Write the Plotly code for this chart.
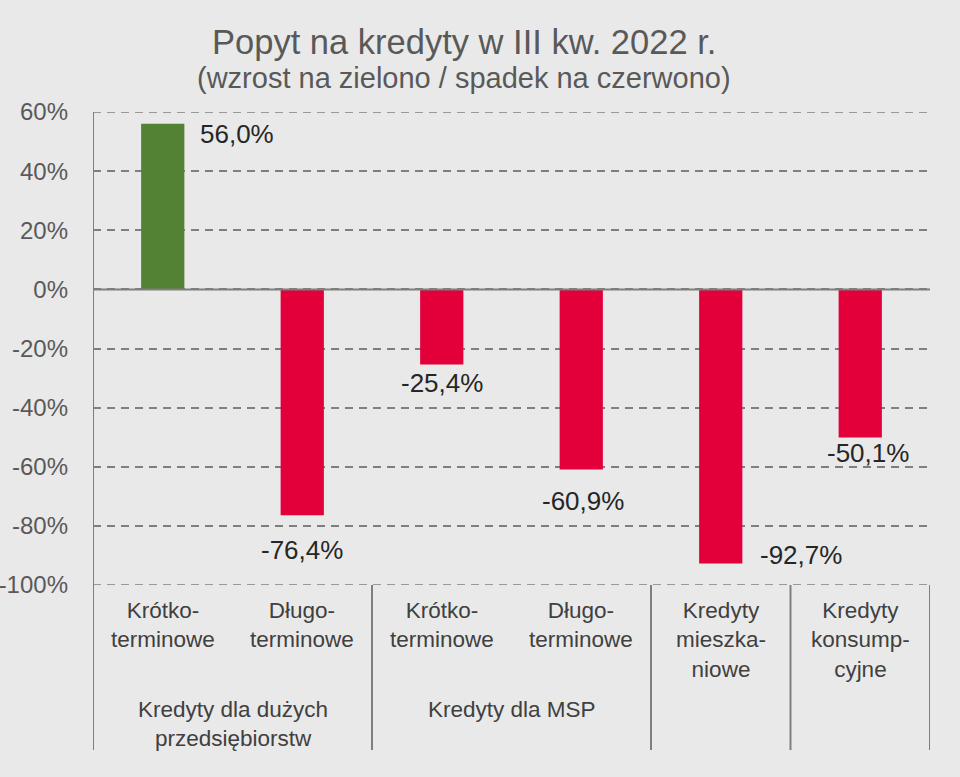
import plotly.graph_objects as go

# ---- data ----
categories = ["Krótko-<br>terminowe", "Długo-<br>terminowe", "Krótko-<br>terminowe",
              "Długo-<br>terminowe", "Kredyty<br>mieszka-<br>niowe", "Kredyty<br>konsump-<br>cyjne"]
values = [56.0, -76.4, -25.4, -60.9, -92.7, -50.1]
value_labels = ["56,0%", "-76,4%", "-25,4%", "-60,9%", "-92,7%", "-50,1%"]
groups = ["Kredyty dla dużych<br>przedsiębiorstw", "Kredyty dla MSP"]
group_members = [[0, 1], [2, 3]]
tick_vals = [60, 40, 20, 0, -20, -40, -60, -80, -100]
tick_text = ["60%", "40%", "20%", "0%", "-20%", "-40%", "-60%", "-80%", "-100%"]
group_bounds = [-0.5, 1.5, 3.5, 4.5, 5.5]

# ---- style ----
GREEN = "#548235"
RED = "#e3003a"
BG = "#e9e9e9"
GRID = "#7f7f7f"
TXT = "#404040"
FONT = "Liberation Sans, Arial, sans-serif"
label_shift = [(74, -10), (0, -35), (0, -19), (2, -32), (80, 8), (8, -16)]

x = list(range(len(values)))
colors = [GREEN if v >= 0 else RED for v in values]

fig = go.Figure()
fig.add_trace(go.Bar(x=x, y=values, marker=dict(color=colors, line=dict(width=0)),
                     width=0.31, hoverinfo="skip"))

annotations = []
for i, (v, t) in enumerate(zip(values, value_labels)):
    dx, dy = label_shift[i]
    annotations.append(dict(x=i, y=v, xref="x", yref="y", text=t, showarrow=False,
                            xanchor="center", yanchor="middle", xshift=dx, yshift=dy,
                            font=dict(size=26, color="#262626", family=FONT)))

# category labels
for i, c in enumerate(categories):
    annotations.append(dict(x=i, y=-0.024, xref="x", yref="paper", text=c, showarrow=False,
                            xanchor="center", yanchor="top",
                            font=dict(size=22.5, color=TXT, family=FONT)))
# group labels
for g, members in zip(groups, group_members):
    annotations.append(dict(x=sum(members) / len(members), y=-0.232, xref="x", yref="paper",
                            text=g, showarrow=False, xanchor="center", yanchor="top",
                            font=dict(size=22.5, color=TXT, family=FONT)))

# title
title_x = (464 - 93) / 837
annotations.append(dict(x=title_x, y=1 + (112 - 42) / 473, xref="paper", yref="paper",
                        text="Popyt na kredyty w III kw. 2022 r.", showarrow=False,
                        xanchor="center", yanchor="middle",
                        font=dict(size=34.5, color="#595959", family=FONT)))
annotations.append(dict(x=title_x, y=1 + (112 - 78) / 473, xref="paper", yref="paper",
                        text="(wzrost na zielono / spadek na czerwono)", showarrow=False,
                        xanchor="center", yanchor="middle",
                        font=dict(size=29, color="#595959", family=FONT)))

shapes = []
for b in group_bounds:
    top = 1 if b == group_bounds[0] else 0
    shapes.append(dict(type="line", xref="x", yref="paper", x0=b, x1=b, y0=-0.349, y1=top,
                       line=dict(color=GRID, width=2)))
# edge gridlines (plotly skips gridlines at the range ends)
for yv in (max(tick_vals), min(tick_vals)):
    shapes.append(dict(type="line", xref="paper", yref="y", x0=0, x1=1, y0=yv, y1=yv,
                       line=dict(color=GRID, width=1.5, dash="8px,6px"), layer="below"))
# zero line
shapes.append(dict(type="line", xref="paper", yref="y", x0=0, x1=1, y0=0, y1=0,
                   line=dict(color=GRID, width=2)))

fig.update_layout(
    width=960, height=777,
    margin=dict(l=93, r=30, t=112, b=192, autoexpand=False),
    paper_bgcolor=BG, plot_bgcolor=BG,
    showlegend=False,
    annotations=annotations,
    shapes=shapes,
    xaxis=dict(range=[-0.5, 5.5], showticklabels=False, showgrid=False, zeroline=False,
               showline=False, fixedrange=True, automargin=False),
    yaxis=dict(range=[-100, 60], tickvals=tick_vals, ticktext=tick_text,
               showgrid=True, gridcolor=GRID, gridwidth=1.5, griddash="8px,6px",
               zeroline=False, showline=False, ticks="", ticklabelstandoff=24,
               automargin=False,
               tickfont=dict(size=24, color="#595959", family=FONT), fixedrange=True),
    font=dict(family=FONT),
)

fig.write_html("out.html", config={"displayModeBar": False},
               post_script="document.body.style.margin='0';document.body.style.background='%s';" % BG)
